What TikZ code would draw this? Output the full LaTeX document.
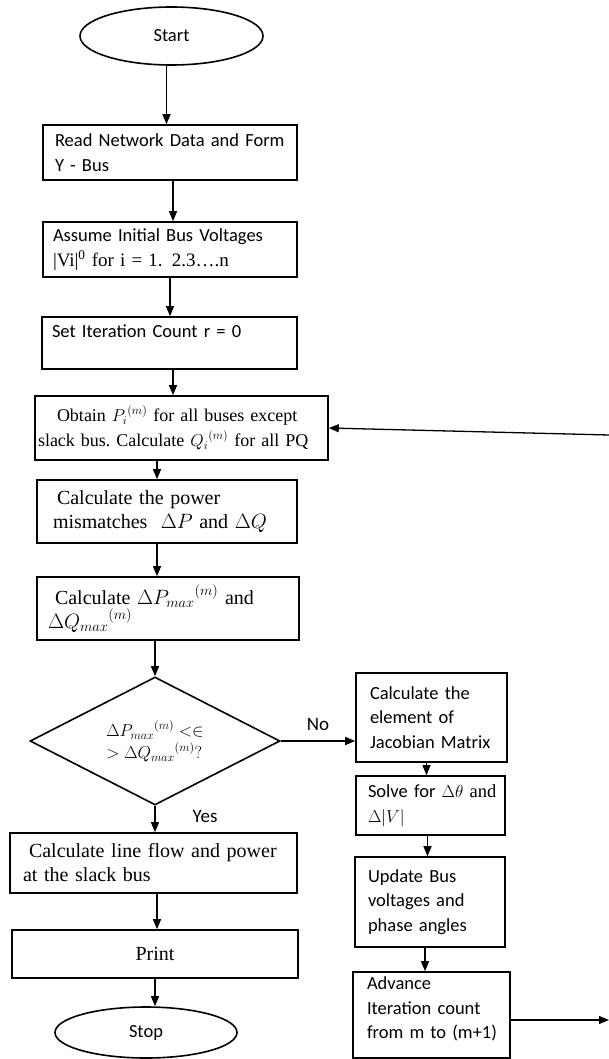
\documentclass[tikz,border=0pt]{standalone}
\usepackage{fontspec}
\setmainfont{Liberation Serif}
\newfontfamily\cfont{Carlito}
\usetikzlibrary{shapes.geometric,arrows.meta}
\begin{document}
\begin{tikzpicture}[x=1pt,y=-1pt,
  every node/.style={inner ysep=0pt},
  cal/.style={font=\cfont\fontsize{18.5}{24.5}\selectfont},
  tms/.style={font=\fontsize{20}{24}\selectfont},
  pbox/.style={draw, line width=1.6pt, rectangle, align=left},
  term/.style={draw, line width=1.6pt, ellipse, inner sep=0pt},
  arr/.style={line width=1.3pt, -{Triangle[length=10pt,width=8pt]}},
  lbl/.style={font=\cfont\fontsize{19}{22}\selectfont, inner sep=0pt}]
\useasboundingbox (0,0) rectangle (609,1059);

\node[term, cal, minimum width=183pt, minimum height=58pt] (start) at (171.5,36) {Start};

\node[pbox, cal, minimum height=55pt, text width=230pt, inner xsep=12pt] (b1) at (170,152.5)
  {Read~Network~Data~and~Form\\Y - Bus};

\node[pbox, cal, minimum height=55pt, text width=234pt, inner xsep=10pt] (b2) at (170,249.5)
  {Assume~Initial~Bus~Voltages\\{\rmfamily\fontsize{19}{24}\selectfont |Vi|\textsuperscript{0} for i = 1. 2.3….n}};

\node[pbox, cal, minimum height=52pt, text width=235pt, inner xsep=10pt] (b3) at (169.5,343)
  {Set Iteration Count r = 0\\\mbox{}};

\node[pbox, font=\fontsize{18}{25}\selectfont, minimum height=64pt, text width=287pt, inner xsep=3pt] (b4) at (181.5,428)
  {\hspace*{19pt}Obtain ${P_i}^{(m)}$ for all buses except\\slack~bus.~Calculate~${Q_i}^{(m)}$~for~all~PQ};

\node[pbox, tms, minimum height=63pt, text width=228pt, inner xsep=16pt] (b5) at (167,511.5)
  {\hspace*{4pt}Calculate the power\\mismatches~~$\Delta P$ and $\Delta Q$};

\node[pbox, tms, minimum height=63pt, text width=240pt, inner xsep=11pt] (b6) at (168,608.5)
  {\hspace*{7pt}Calculate ${\Delta P_{max}}^{(m)}$ and\\${\Delta Q_{max}}^{(m)}$};

\node[draw, line width=1.6pt, diamond, aspect=1.95, minimum width=250pt, minimum height=128pt,
      inner sep=0pt, align=left, font=\fontsize{17}{22}\selectfont] (dia) at (155,741)
  {${\Delta P_{max}}^{(m)} <\in$\\$> {\Delta Q_{max}}^{(m)}?$};

\node[pbox, tms, minimum height=60pt, text width=261pt, inner xsep=13pt] (b7) at (153.5,863)
  {\hspace*{6pt}Calculate~line~flow~and~power\\at the slack bus};

\node[pbox, tms, minimum width=286pt, minimum height=48pt, align=center] (pr) at (155,954) {Print};

\node[term, cal, minimum width=182pt, minimum height=51pt] (stop) at (146,1032.5) {Stop};

\node[pbox, cal, minimum height=89pt, text width=123pt, inner xsep=14pt] (jac) at (431.5,717.5)
  {Calculate~the\\element~of\\Jacobian~Matrix};

\node[pbox, cal, minimum height=59pt, text width=125pt, inner xsep=12pt] (solve) at (430.5,805.5)
  {Solve~for~$\Delta\theta$~{\rmfamily and}\\$\Delta|V|$};

\node[pbox, cal, minimum height=90pt, text width=124pt, inner xsep=13pt] (upd) at (430,902)
  {Update~Bus\\voltages~and\\phase~angles};

\node[pbox, cal, minimum height=86pt, text width=129pt, inner xsep=14pt] (adv) at (431.5,1015)
  {Advance\\Iteration~count\\from~m~to~(m+1)\\[-10pt]\mbox{}};

\coordinate (inr) at (609,435);
\coordinate (outr) at (609,1020);

\draw[arr] ([xshift=-5pt]start.south) -- ([xshift=-5pt]start.south |- b1.north);
\draw[arr] ([xshift=3pt]b1.south) -- ([xshift=3pt]b1.south |- b2.north);
\draw[arr] (b2.south) -- (b2.south |- b3.north);
\draw[arr] ([xshift=3.5pt]b3.south) -- ([xshift=3.5pt]b3.south |- b4.north);
\draw[arr] ([xshift=2pt]dia.north |- b4.south) -- ([xshift=2pt]dia.north |- b5.north);
\draw[arr] ([xshift=2pt]dia.north |- b5.south) -- ([xshift=2pt]dia.north |- b6.north);
\draw[arr] (dia.north |- b6.south) -- (dia.north);
\draw[arr] (dia.east) -- (dia.east -| jac.west) node[lbl, midway, above=10pt] {No};
\draw[arr] (dia.south) -- (dia.south |- b7.north) node[lbl, pos=0.4, right=37pt] {Yes};
\draw[arr] ([xshift=2pt]dia.south |- b7.south) -- ([xshift=2pt]dia.south |- pr.north);
\draw[arr] (pr.south) -- (pr.south |- stop.north);
\draw[arr] ([xshift=-5pt]jac.south) -- ([xshift=-5pt]jac.south |- solve.north);
\draw[arr] ([xshift=-3pt]solve.south) -- ([xshift=-3pt]solve.south |- upd.north);
\draw[arr] ([xshift=-5pt]upd.south) -- ([xshift=-5pt]upd.south |- adv.north);
\draw[arr] ([yshift=-5pt]adv.east) -- (outr);
\draw[arr] (inr) -- (b4.east);
\end{tikzpicture}
\end{document}
